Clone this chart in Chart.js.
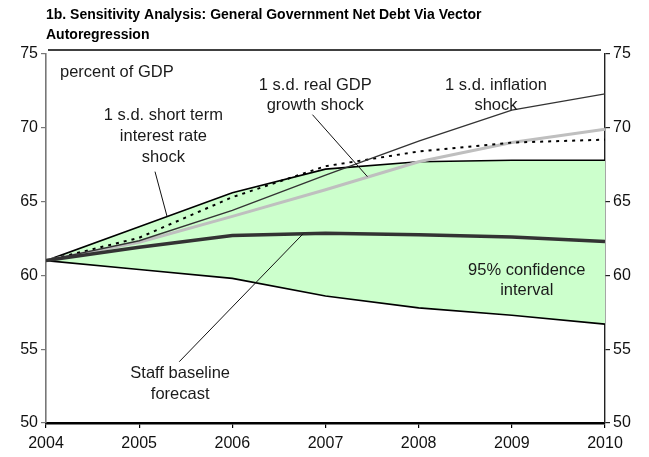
<!DOCTYPE html>
<html>
<head>
<meta charset="utf-8">
<script src="https://cdn.jsdelivr.net/npm/chart.js@4.4.1/dist/chart.umd.min.js"></script>
<style>
  html, body { margin: 0; padding: 0; background: #fff; }
  #wrap { width: 649px; height: 457px; position: relative; }
</style>
</head>
<body>
<div id="wrap"><canvas id="chart"></canvas></div>
<script>
// Years on the horizontal axis
const years = [2004, 2005, 2006, 2007, 2008, 2009, 2010];
const yTicks = [50, 55, 60, 65, 70, 75];

// Net debt paths, percent of GDP
const upperBand      = [61, 63.3, 65.6, 67.2, 67.7, 67.8, 67.8];
const lowerBand      = [61, 60.4, 59.8, 58.6, 57.8, 57.3, 56.7];
const baseline       = [61, 61.9, 62.7, 62.85, 62.75, 62.6, 62.3];
const inflationShock = [61, 62.35, 64.4, 66.8, 69.1, 71.2, 72.3];
const growthShock    = [61, 62.25, 64.0, 65.8, 67.7, 69.0, 69.9];
const interestShock  = [61, 62.55, 65.3, 67.4, 68.4, 69.0, 69.2];

const titleLines = [
  '1b. Sensitivity Analysis: General Government Net Debt Via Vector',
  'Autoregression'
];

const FONT = '"Liberation Sans", Arial, sans-serif';
const toXY = arr => arr.map((v, i) => ({ x: years[i], y: v }));

// Text callouts, placed in data units (year, percent of GDP)
const notes = [
  { lines: ['percent of GDP'], x: 2004.15, y: 73.75, align: 'left' },
  { lines: ['1 s.d. short term', 'interest rate', 'shock'], x: 2005.26, y: 70.82, align: 'center' },
  { lines: ['1 s.d. real GDP', 'growth shock'], x: 2006.89, y: 72.9, align: 'center' },
  { lines: ['1 s.d. inflation', 'shock'], x: 2008.83, y: 72.9, align: 'center' },
  { lines: ['95% confidence', 'interval'], x: 2009.16, y: 60.35, align: 'center' },
  { lines: ['Staff baseline', 'forecast'], x: 2005.44, y: 53.35, align: 'center' }
];
// Leader lines from callouts to their series
const leaders = [
  [[2005.17, 67.03], [2005.30, 63.98]],
  [[2006.86, 70.89], [2007.45, 66.69]],
  [[2005.43, 54.15], [2006.76, 62.82]]
];

const decorations = {
  id: 'decorations',
  afterDatasetsDraw(chart) {
    const { ctx, chartArea, scales } = chart;
    const xs = scales.x, ys = scales.y;
    ctx.save();
    // leader lines
    ctx.strokeStyle = '#111';
    ctx.lineWidth = 1;
    leaders.forEach(([a, b]) => {
      ctx.beginPath();
      ctx.moveTo(xs.getPixelForValue(a[0]), ys.getPixelForValue(a[1]));
      ctx.lineTo(xs.getPixelForValue(b[0]), ys.getPixelForValue(b[1]));
      ctx.stroke();
    });
    // callout text
    ctx.fillStyle = '#1a1a1a';
    ctx.font = '16.5px ' + FONT;
    ctx.textBaseline = 'middle';
    notes.forEach(n => {
      ctx.textAlign = n.align;
      const px = xs.getPixelForValue(n.x);
      const py = ys.getPixelForValue(n.y);
      n.lines.forEach((t, i) => ctx.fillText(t, px, py + i * 20.7));
    });
    // frame rule above the plot
    ctx.strokeStyle = '#000';
    ctx.lineWidth = 1.3;
    ctx.beginPath();
    ctx.moveTo(chartArea.left + 2, chartArea.top - 4);
    ctx.lineTo(chartArea.right - 4, chartArea.top - 4);
    ctx.stroke();
    // title
    ctx.font = 'bold 14px ' + FONT;
    ctx.textAlign = 'left';
    ctx.fillStyle = '#000';
    titleLines.forEach((t, i) => ctx.fillText(t, chartArea.left, 15 + i * 20));
    ctx.restore();
  }
};

const lineDs = (label, data, color, width, extra) => Object.assign({
  label, data: toXY(data), borderColor: color, borderWidth: width,
  pointRadius: 0, tension: 0, fill: false
}, extra || {});

new Chart(document.getElementById('chart'), {
  type: 'line',
  data: {
    datasets: [
      lineDs('Staff baseline forecast', baseline, '#333333', 3.5),
      lineDs('1 s.d. inflation shock', inflationShock, '#333333', 1.4),
      lineDs('1 s.d. short term interest rate shock', interestShock, '#000000', 2, { borderDash: [3, 5] }),
      lineDs('1 s.d. real GDP growth shock', growthShock, '#bfbfbf', 3),
      lineDs('95% upper', upperBand, '#000000', 1.6, { fill: '+1', backgroundColor: '#ccffcc' }),
      lineDs('95% lower', lowerBand, '#000000', 1.6)
    ]
  },
  options: {
    responsive: true,
    maintainAspectRatio: false,
    animation: false,
    layout: { padding: { top: 54, left: 0, right: 0, bottom: 0 } },
    plugins: {
      legend: { display: false },
      tooltip: { enabled: false },
      filler: { drawTime: 'beforeDatasetsDraw' }
    },
    scales: {
      x: {
        type: 'linear', min: 2004, max: 2010,
        afterFit: s => { s.height = 34; },
        afterBuildTicks: s => { s.ticks = years.map(v => ({ value: v })); },
        ticks: { color: '#111', font: { family: FONT, size: 16 }, padding: 6, maxRotation: 0, callback: v => String(v) },
        grid: { drawOnChartArea: false, drawTicks: true, tickLength: 5, color: '#000', lineWidth: 1.2 },
        border: { display: true, color: '#000', width: 2.5 }
      },
      y: {
        position: 'left', min: 50, max: 75,
        afterFit: s => { s.width = 46; },
        afterBuildTicks: s => { s.ticks = yTicks.map(v => ({ value: v })); },
        ticks: { color: '#111', font: { family: FONT, size: 16 }, padding: 3 },
        grid: { drawOnChartArea: false, drawTicks: true, tickLength: 5, color: '#777', lineWidth: 1.2 },
        border: { display: true, color: '#777', width: 1.6 }
      },
      y2: {
        position: 'right', min: 50, max: 75,
        afterFit: s => { s.width = 44; },
        afterBuildTicks: s => { s.ticks = yTicks.map(v => ({ value: v })); },
        ticks: { color: '#111', font: { family: FONT, size: 16 }, padding: 3 },
        grid: { drawOnChartArea: false, drawTicks: true, tickLength: 5, color: '#222', lineWidth: 1.2 },
        border: { display: true, color: '#222', width: 1.4 }
      }
    }
  },
  plugins: [decorations]
});
</script>
</body>
</html>
